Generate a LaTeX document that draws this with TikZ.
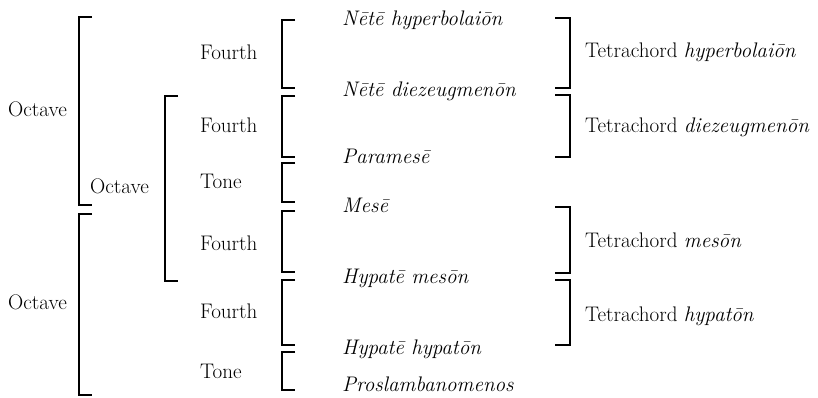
\documentclass[tikz,border=0pt]{standalone}
\usepackage{fontspec}
\usepackage{tikz}
\def\bropen(#1:#2:#3){\draw[brack] ({#1+13},#2) -- (#1,#2) -- (#1,#3) -- ({#1+13},#3);}
\def\brclose(#1:#2:#3){\draw[brack] ({#1-15},#2) -- (#1,#2) -- (#1,#3) -- ({#1-15},#3);}

\begin{document}
\begin{tikzpicture}[x=0.03cm,y=-0.03cm,
    brack/.style={line width=2.4pt,line cap=butt,line join=miter},
    lbl/.style={anchor=base west,inner sep=0pt,font=\fontsize{18}{21}\selectfont},
    note/.style={lbl,font=\fontsize{18}{21}\selectfont\itshape}]
			%%%%% START %%%%%
			\useasboundingbox (0,0) rectangle (818,398);
			
			% octaves
			\bropen(79:17:205);
			\bropen(79:214:395);
			\bropen(165:96:281);
			\node[lbl] (oct-up) at (8,117) {Octave};
			\node[lbl] (oct-mid) at (90,193) {Octave};
			\node[lbl] (oct-low) at (8,309) {Octave};
			
			% fourths and tones
			\node[lbl] (fourth-a) at (200,60) {Fourth};
			\node[lbl] (fourth-b) at (200,132) {Fourth};
			\node[lbl] (tone-a) at (200,188) {Tone};
			\node[lbl] (fourth-c) at (200,250) {Fourth};
			\node[lbl] (fourth-d) at (200,318) {Fourth};
			\node[lbl] (tone-b) at (200,378) {Tone};
			
			\bropen(282:20:88);
			\bropen(282:96:157);
			\bropen(282:163:202);
			\bropen(282:211:272);
			\bropen(282:280:345);
			\bropen(282:352:390);
			
			% notes
			\node[note] (nete-hyp) at (342,26) {Nētē hyperbolaiōn};
			\node[note] (nete-die) at (342,97) {Nētē diezeugmenōn};
			\node[note] (paramese) at (342,163) {Paramesē};
			\node[note] (mese) at (342,212) {Mesē};
			\node[note] (hyp-mes) at (342,283) {Hypatē mesōn};
			\node[note] (hyp-hyp) at (342,354) {Hypatē hypatōn};
			\node[note] (proslam) at (342,391) {Proslambanomenos};
			
			% tetrachords
			\brclose(570:18:88);
			\brclose(570:95:157);
			\brclose(570:207:273);
			\brclose(570:280:345);
			\node[lbl] (tet-hyp) at (585,58) {Tetrachord \textit{hyperbolaiōn}};
			\node[lbl] (tet-die) at (585,132) {Tetrachord \textit{diezeugmenōn}};
			\node[lbl] (tet-mes) at (585,247) {Tetrachord \textit{mesōn}};
			\node[lbl] (tet-hypa) at (585,321) {Tetrachord \textit{hypatōn}};
			%%%%% END %%%%%
		\end{tikzpicture}
\end{document}
